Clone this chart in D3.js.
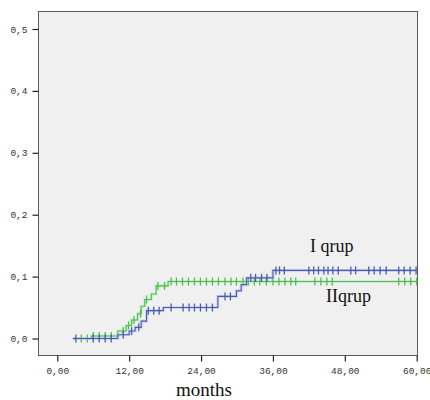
<!DOCTYPE html>
<html>
<head>
<meta charset="utf-8">
<script src="https://cdn.jsdelivr.net/npm/d3@7"></script>
<style>
  html, body { margin: 0; padding: 0; background: #ffffff; }
  svg { display: block; }
</style>
</head>
<body>
<svg id="chart" width="430" height="400"></svg>
<script>
// ---- data ----
const xTickValues = [0, 12, 24, 36, 48, 60];
const xTickLabels = ["0,00", "12,00", "24,00", "36,00", "48,00", "60,00"];
const yTickValues = [0, 0.1, 0.2, 0.3, 0.4, 0.5];
const yTickLabels = ["0,0", "0,1", "0,2", "0,3", "0,4", "0,5"];

// Group I (blue) step function
const group1Times  = [2.6, 10.1, 12.0, 13.0, 14.0, 14.9, 17.7, 26.8, 29.9, 30.7, 31.6, 36.0, 60];
const group1Values = [0, 0.006, 0.012, 0.018, 0.028, 0.045, 0.050, 0.068, 0.077, 0.087, 0.098, 0.110, 0.110];
const group1Censored = [3.1, 6.0, 7.0, 8.0, 9.0, 11.0, 12.4, 13.6, 15.2, 16.1, 17.0, 19.0, 21.0, 22.0, 22.9, 23.9,
  24.9, 25.9, 28.0, 28.9, 32.3, 33.1, 34.1, 35.0, 36.5, 37.1, 37.9, 42.0, 42.8, 43.6, 44.5, 45.2, 46.0, 46.9,
  49.0, 49.8, 52.0, 52.9, 53.9, 54.9, 57.0, 57.9, 58.9, 59.9];

// Group II (green) step function
const group2Times  = [2.6, 5.7, 10.1, 11.5, 12.4, 13.4, 14.0, 14.6, 15.7, 16.5, 18.5, 60];
const group2Values = [0, 0.004, 0.012, 0.021, 0.030, 0.040, 0.052, 0.063, 0.072, 0.085, 0.092, 0.092];
const group2Censored = [4.0, 5.0, 6.0, 7.0, 8.0, 9.0, 11.0, 11.9, 12.8, 13.9, 14.9, 16.8, 17.9, 19.0, 19.9, 20.9,
  21.9, 22.9, 23.9, 24.9, 25.9, 26.9, 28.0, 29.0, 29.9, 31.0, 31.9, 32.9, 33.8, 34.9, 36.0, 37.0, 38.0, 39.0,
  39.8, 43.0, 44.0, 45.0, 45.9, 57.0, 58.0, 59.0, 60.0];

const seriesLabels = ["I qrup", "IIqrup"];
const xTitle = "months";

// ---- layout ----
const svg = d3.select("#chart");
const frame = { left: 38.5, top: 11.5, right: 417.5, bottom: 355.5 };

const x = d3.scaleLinear().domain([0, 60]).range([57.3, 416.7]);
const y = d3.scaleLinear().domain([0, 0.5]).range([338.5, 29]);

svg.append("rect")
  .attr("x", frame.left).attr("y", frame.top)
  .attr("width", frame.right - frame.left).attr("height", frame.bottom - frame.top)
  .attr("fill", "#f0f0f0").attr("stroke", "#5a5a5a").attr("stroke-width", 1);

// axes
const yAxis = d3.axisLeft(y).tickValues(yTickValues)
  .tickFormat((d, i) => yTickLabels[i]).tickSize(6).tickPadding(5);
const gy = svg.append("g").attr("transform", `translate(${frame.left},0)`).call(yAxis);
gy.select(".domain").remove();

const xAxis = d3.axisBottom(x).tickValues(xTickValues)
  .tickFormat((d, i) => xTickLabels[i]).tickSize(6).tickPadding(6);
const gx = svg.append("g").attr("transform", `translate(0,${frame.bottom})`).call(xAxis);
gx.select(".domain").remove();

[gx, gy].forEach(g => {
  g.selectAll("line").attr("stroke", "#222").attr("stroke-width", 1.2);
  g.selectAll("text").attr("font-family", "'Liberation Mono', 'DejaVu Sans Mono', monospace")
    .attr("font-size", "9.5px").attr("fill", "#333");
});

// step curves
function stepValue(times, values, t) {
  let v = values[0];
  for (let i = 0; i < times.length; i++) { if (times[i] <= t) v = values[i]; }
  return v;
}

function drawSeries(times, values, censored, color, halo) {
  const pts = times.map((t, i) => [t, values[i]]);
  const line = d3.line().x(d => x(d[0])).y(d => y(d[1])).curve(d3.curveStepAfter);
  svg.append("path").datum(pts).attr("d", line)
    .attr("fill", "none").attr("stroke", halo).attr("stroke-width", 3).attr("opacity", 0.4);
  svg.append("path").datum(pts).attr("d", line)
    .attr("fill", "none").attr("stroke", color).attr("stroke-width", 1.1);
  svg.append("g").selectAll("line").data(censored).join("line")
    .attr("x1", d => x(d)).attr("x2", d => x(d))
    .attr("y1", d => y(stepValue(times, values, d)) - 4)
    .attr("y2", d => y(stepValue(times, values, d)) + 4)
    .attr("stroke", color).attr("stroke-width", 1.3);
}

drawSeries(group2Times, group2Values, group2Censored, "#4cbf4c", "#a6dca6");
drawSeries(group1Times, group1Values, group1Censored, "#4a5cb4", "#a4aed8");

// labels
svg.append("text").attr("x", 310).attr("y", 251.5)
  .attr("font-family", "'Liberation Serif', 'Times New Roman', serif").attr("font-size", "18px")
  .attr("fill", "#111").text(seriesLabels[0]);
svg.append("text").attr("x", 326).attr("y", 301.5)
  .attr("font-family", "'Liberation Serif', 'Times New Roman', serif").attr("font-size", "18px")
  .attr("fill", "#111").text(seriesLabels[1]);

svg.append("text").attr("x", 204).attr("y", 396).attr("text-anchor", "middle")
  .attr("font-family", "'Liberation Serif', 'Times New Roman', serif").attr("font-size", "19px")
  .attr("fill", "#111").text(xTitle);
</script>
</body>
</html>
